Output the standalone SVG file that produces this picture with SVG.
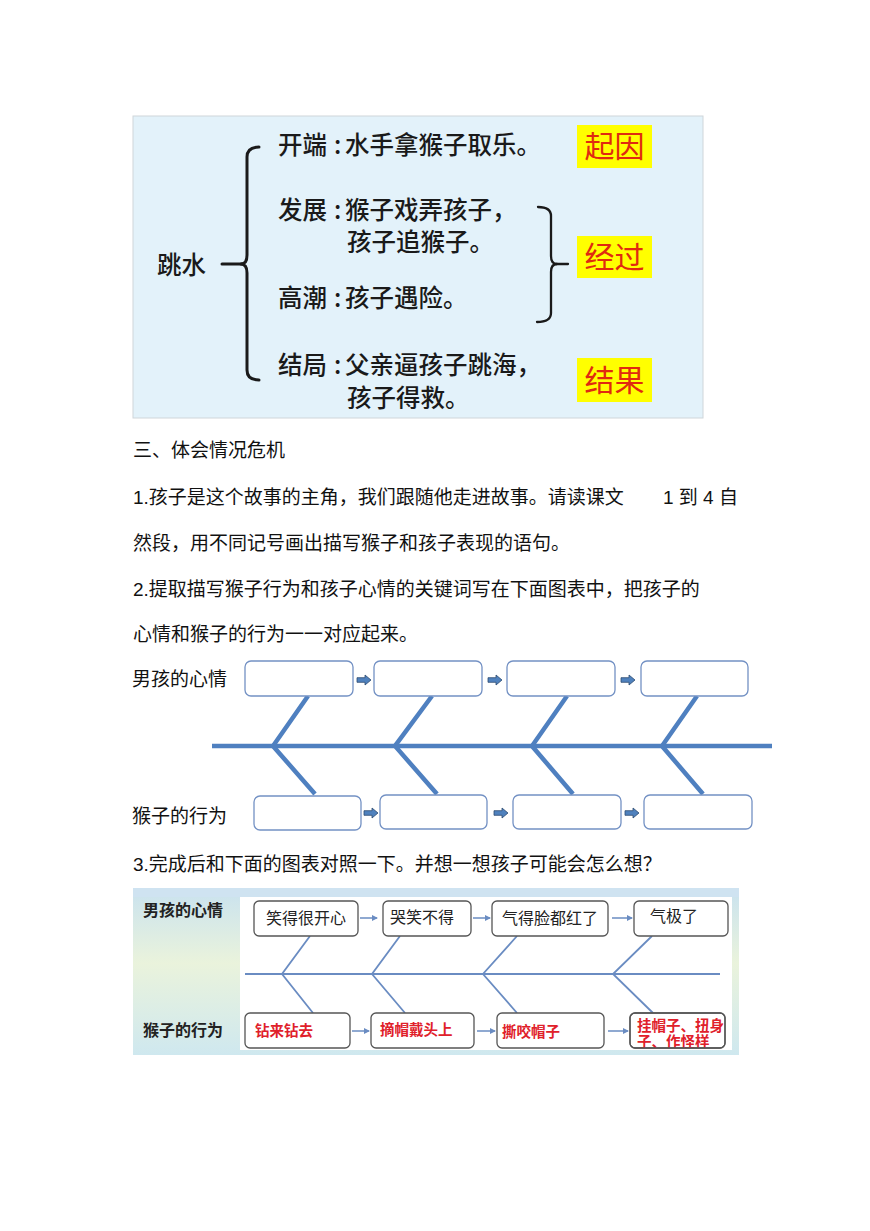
<svg xmlns="http://www.w3.org/2000/svg" width="870" height="1231" viewBox="0 0 870 1231">
<style>
.t{font-family:"Liberation Sans","Noto Sans CJK SC",sans-serif;font-size:19px;fill:#111}
.big{font-family:"Noto Sans CJK SC",sans-serif;font-size:24.5px;font-weight:500;fill:#1a1a1a}
.tag{font-family:"Noto Sans CJK SC",sans-serif;font-size:30px;fill:#e02a10}
.br{fill:none;stroke:#1a1a1a;stroke-linecap:round;stroke-linejoin:round}
.b1{fill:#fff;stroke:#7391c4;stroke-width:1.3}
.bone1{stroke:#4f80c0;stroke-width:4.5;fill:none;stroke-linecap:butt}
.blk{fill:#4f81bd;stroke:#2c4a70;stroke-width:0.8}
.b2{fill:#fff;stroke:#555;stroke-width:1.3}
.b2o{fill:none;stroke:#555;stroke-width:1.3}
.bone2{stroke:#6a8cc2;stroke-width:1.8;fill:none}
.lab2{font-family:"Noto Sans CJK SC",sans-serif;font-size:16px;font-weight:bold;fill:#222}
.k2{font-family:"Noto Sans CJK SC",sans-serif;font-size:16px;fill:#222}
.r2{font-family:"Noto Sans CJK SC",sans-serif;font-size:14.5px;font-weight:bold;fill:#e0202a}
.ar2{stroke:#6a8cc2;stroke-width:1.5;fill:none;marker-end:url(#ah)}
</style>
<defs>
<path id="blkArrow" d="M0,-2.3 H8 V-5 L14,0 L8,5 V2.3 H0 Z"/>
<marker id="ah" markerWidth="6" markerHeight="6" refX="5" refY="3" orient="auto" markerUnits="userSpaceOnUse">
<path d="M0,0 L6,3 L0,6 Z" fill="#6a8cc2"/>
</marker>
<linearGradient id="bg2" x1="0" y1="0" x2="0" y2="1">
<stop offset="0" stop-color="#c9e2ef"/>
<stop offset="0.45" stop-color="#eaf3dc"/>
<stop offset="1" stop-color="#cfe8ef"/>
</linearGradient>
<clipPath id="clip4"><rect x="630" y="1013" width="95" height="35" rx="5"/></clipPath>
</defs>
<rect width="870" height="1231" fill="#fff"/>

<!-- Top structure diagram -->
<g id="plot-diagram">
<rect x="133" y="116" width="570" height="302" fill="#e3f2fa" stroke="#cfd6da" stroke-width="1"/>
<text class="big" x="157" y="273.5">跳水</text>
<g id="brackets">
<path class="br" stroke-width="3" d="M222,264 H242"/>
<path class="br" stroke-width="3" d="M259,147 Q247,147 247,157 V255 Q247,264 241,264 Q247,264 247,273 V370 Q247,380 259,380"/>
<path class="br" stroke-width="2.3" d="M538,207 Q551,207 551,216 V256 Q551,264 557,264 Q551,264 551,272 V313 Q551,322 537,322"/>
<path class="br" stroke-width="2.3" d="M556,264 H568"/>
</g>
<g id="line-kaiduan"><text class="big" x="278" y="153.5">开端<tspan x="334">:</tspan><tspan x="345">水手拿猴子取乐。</tspan></text></g>
<g id="line-fazhan"><text class="big" x="278" y="218.5">发展<tspan x="334">:</tspan><tspan x="345">猴子戏弄孩子，</tspan></text>
<text class="big" x="347" y="250.5">孩子追猴子。</text></g>
<g id="line-gaochao"><text class="big" x="278" y="306.5">高潮<tspan x="334">:</tspan><tspan x="345">孩子遇险。</tspan></text></g>
<g id="line-jieju"><text class="big" x="278" y="374">结局<tspan x="334">:</tspan><tspan x="345">父亲逼孩子跳海，</tspan></text>
<text class="big" x="347" y="406.5">孩子得救。</text></g>
<g id="tag-qiyin"><rect x="577" y="125" width="75" height="43" fill="#ffff00"/><text class="tag" x="614.5" y="157" text-anchor="middle">起因</text></g>
<g id="tag-jingguo"><rect x="577" y="236" width="75" height="42" fill="#ffff00"/><text class="tag" x="614.5" y="268" text-anchor="middle">经过</text></g>
<g id="tag-jieguo"><rect x="577" y="358" width="75" height="44" fill="#ffff00"/><text class="tag" x="614.5" y="391" text-anchor="middle">结果</text></g>
</g>

<!-- Body text -->
<g id="body-text">
<text class="t" x="133" y="457">三、体会情况危机</text>
<text class="t" x="133" y="504">1.孩子是这个故事的主角，我们跟随他走进故事。请读课文<tspan x="663">1 到 4 自</tspan></text>
<text class="t" x="133" y="550">然段，用不同记号画出描写猴子和孩子表现的语句。</text>
<text class="t" x="133" y="596">2.提取描写猴子行为和孩子心情的关键词写在下面图表中，把孩子的</text>
<text class="t" x="133" y="641">心情和猴子的行为一一对应起来。</text>
<text class="t" x="133" y="871">3.完成后和下面的图表对照一下。并想一想孩子可能会怎么想？</text>
</g>

<!-- Fishbone 1 (blank) -->
<g id="fishbone-blank">
<text class="t" x="132" y="686">男孩的心情</text>
<text class="t" x="132" y="823">猴子的行为</text>
<g id="fb1-connectors">
<path class="bone1" d="M212,746 H772"/>
<path class="bone1" d="M308,696 L273,746 L315,794"/>
<path class="bone1" d="M432,696 L395,746 L437,794"/>
<path class="bone1" d="M567,696 L532,746 L573,794"/>
<path class="bone1" d="M697,696 L662,746 L703,794"/>
<use href="#blkArrow" class="blk" x="357" y="680"/>
<use href="#blkArrow" class="blk" x="488" y="680"/>
<use href="#blkArrow" class="blk" x="621" y="680"/>
<use href="#blkArrow" class="blk" x="364" y="813"/>
<use href="#blkArrow" class="blk" x="494" y="813"/>
<use href="#blkArrow" class="blk" x="625" y="813"/>
</g>
<g id="fb1-top1"><rect class="b1" x="245" y="661" width="108" height="35" rx="6"/></g>
<g id="fb1-top2"><rect class="b1" x="374" y="661" width="108" height="35" rx="6"/></g>
<g id="fb1-top3"><rect class="b1" x="507" y="661" width="108" height="35" rx="6"/></g>
<g id="fb1-top4"><rect class="b1" x="641" y="661" width="107" height="35" rx="6"/></g>
<g id="fb1-bot1"><rect class="b1" x="254" y="796" width="107" height="34" rx="6"/></g>
<g id="fb1-bot2"><rect class="b1" x="380" y="795" width="107" height="34" rx="6"/></g>
<g id="fb1-bot3"><rect class="b1" x="513" y="795" width="108" height="34" rx="6"/></g>
<g id="fb1-bot4"><rect class="b1" x="644" y="795" width="108" height="34" rx="6"/></g>
</g>

<!-- Fishbone 2 (answer) -->
<g id="fishbone-answer">
<rect x="133" y="888" width="606" height="167" fill="url(#bg2)"/>
<rect x="133" y="888" width="606" height="9" fill="#cfe3f1"/>
<rect x="240" y="897" width="492" height="153" fill="#ffffff"/>
<text class="lab2" x="143" y="916">男孩的心情</text>
<text class="lab2" x="143" y="1036">猴子的行为</text>
<g id="fb2-connectors">
<path class="bone2" d="M245,974 H720"/>
<path class="bone2" d="M310,936 L282,974 L313,1013"/>
<path class="bone2" d="M400,936 L372,974 L405,1013"/>
<path class="bone2" d="M517,936 L483,974 L517,1013"/>
<path class="bone2" d="M652,936 L613,974 L653,1013"/>
<path class="ar2" d="M360,918 H377"/>
<path class="ar2" d="M473,918 H490"/>
<path class="ar2" d="M612,918 H632"/>
<path class="ar2" d="M352,1031 H369"/>
<path class="ar2" d="M477,1031 H495"/>
<path class="ar2" d="M608,1031 H628"/>
</g>
<g id="fb2-top1"><rect class="b2" x="254" y="901" width="104" height="35" rx="5"/><text class="k2" x="306" y="923.5" text-anchor="middle">笑得很开心</text></g>
<g id="fb2-top2"><rect class="b2" x="383" y="901" width="88" height="35" rx="5"/><text class="k2" x="390" y="923">哭笑不得</text></g>
<g id="fb2-top3"><rect class="b2" x="492" y="901" width="116" height="35" rx="5"/><text class="k2" x="550" y="923.5" text-anchor="middle">气得脸都红了</text></g>
<g id="fb2-top4"><rect class="b2" x="634" y="901" width="94" height="35" rx="5"/><text class="k2" x="650" y="922">气极了</text></g>
<g id="fb2-bot1"><rect class="b2" x="245" y="1013" width="105" height="35" rx="5"/><text class="r2" x="255" y="1035.5">钻来钻去</text></g>
<g id="fb2-bot2"><rect class="b2" x="371" y="1013" width="103" height="35" rx="5"/><text class="r2" x="380" y="1035">摘帽戴头上</text></g>
<g id="fb2-bot3"><rect class="b2" x="497" y="1013" width="107" height="35" rx="5"/><text class="r2" x="502" y="1037">撕咬帽子</text></g>
<g id="fb2-bot4"><rect class="b2" x="630" y="1013" width="95" height="35" rx="5"/><text class="r2" x="637" y="1031" clip-path="url(#clip4)">挂帽子、扭身<tspan x="637" y="1047">子、作怪样</tspan></text><rect class="b2o" x="630" y="1013" width="95" height="35" rx="5"/></g>
</g>
</svg>
